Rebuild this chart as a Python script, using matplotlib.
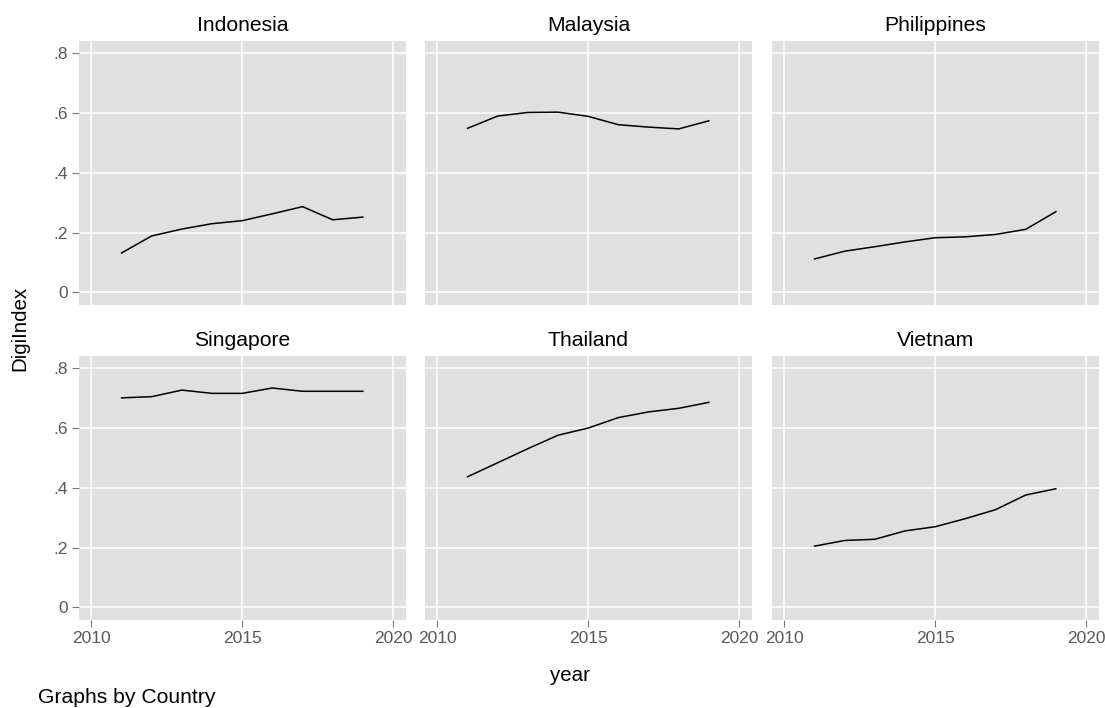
import matplotlib
matplotlib.use("Agg")
import matplotlib.pyplot as plt

plt.rcParams['font.family'] = ['Liberation Sans', 'DejaVu Sans']

years = [2011, 2012, 2013, 2014, 2015, 2016, 2017, 2018, 2019]
countries = ["Indonesia", "Malaysia", "Philippines", "Singapore", "Thailand", "Vietnam"]

indonesia = [0.132, 0.189, 0.212, 0.230, 0.240, 0.263, 0.287, 0.243, 0.252]
malaysia = [0.549, 0.590, 0.602, 0.603, 0.589, 0.561, 0.553, 0.547, 0.574]
philippines = [0.112, 0.138, 0.153, 0.169, 0.183, 0.186, 0.194, 0.211, 0.270]
singapore = [0.701, 0.705, 0.727, 0.716, 0.716, 0.734, 0.723, 0.723, 0.723]
thailand = [0.437, 0.484, 0.531, 0.576, 0.600, 0.635, 0.654, 0.666, 0.686]
vietnam = [0.205, 0.224, 0.228, 0.256, 0.270, 0.297, 0.327, 0.376, 0.397]

series = [indonesia, malaysia, philippines, singapore, thailand, vietnam]

x_ticks = [2010, 2015, 2020]
x_tick_labels = ["2010", "2015", "2020"]
y_ticks = [0, 0.2, 0.4, 0.6, 0.8]
y_tick_labels = ["0", ".2", ".4", ".6", ".8"]

W, H = 1105, 708
fig = plt.figure(figsize=(W / 100, H / 100), dpi=100)

col_left = [79, 425, 772]
col_w = 327
row_top = [41, 356]
row_h = 264

bg = "#e0e0e0"
tick_col = "#5a5a5a"

for i, (name, vals) in enumerate(zip(countries, series)):
    r, c = divmod(i, 3)
    left = col_left[c] / W
    bottom = 1 - (row_top[r] + row_h) / H
    ax = fig.add_axes([left, bottom, col_w / W, row_h / H])
    ax.set_facecolor(bg)
    for s in ax.spines.values():
        s.set_visible(False)
    ax.set_xlim(2009.59, 2020.43)
    ax.set_ylim(-0.042, 0.841)
    ax.set_xticks(x_ticks)
    ax.set_yticks(y_ticks)
    ax.grid(True, color="white", linewidth=1.1)
    ax.set_axisbelow(True)
    ax.plot(years, vals, color="black", linewidth=1.1, zorder=3)
    ax.set_title(name, fontsize=15.2, color="black", pad=7)
    ax.tick_params(axis='both', length=5, width=0.8, color="#777777",
                   labelsize=12.5, labelcolor=tick_col, pad=3)
    if c == 0:
        ax.set_yticklabels(y_tick_labels)
    else:
        ax.tick_params(axis='y', left=False, labelleft=False)
    if r == 1:
        ax.set_xticklabels(x_tick_labels)
    else:
        ax.tick_params(axis='x', bottom=False, labelbottom=False)

fig.text(570 / W, 1 - 681 / H, "year", fontsize=14.8, ha="center", va="baseline")
fig.text(20 / W, 1 - 328 / H, "DigiIndex", fontsize=14.8, ha="center", va="center",
         rotation=90)
fig.text(38 / W, 1 - 703 / H, "Graphs by Country", fontsize=15.2, ha="left",
         va="baseline")

fig.savefig("out.png", dpi=100, facecolor="white")
